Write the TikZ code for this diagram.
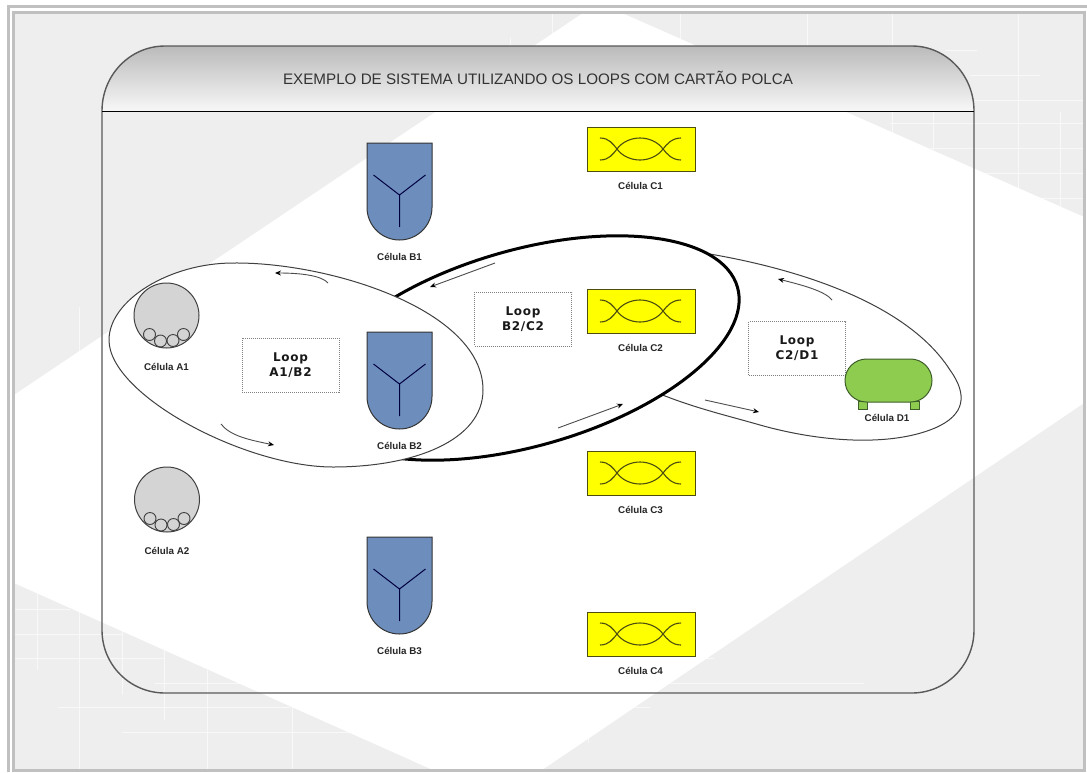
\documentclass[tikz,border=0pt]{standalone}
\usepackage{fontspec}
\setmainfont{Liberation Sans}
\newfontfamily\loopfont[LetterSpace=6]{DejaVu Sans}
\usetikzlibrary{arrows.meta,shapes.geometric}
\definecolor{bgray}{HTML}{EEEEEE}
\definecolor{bline}{HTML}{C0C0C0}
\definecolor{shieldblue}{HTML}{6D8EBD}
\definecolor{cellgray}{HTML}{D4D4D4}
\definecolor{tankgreen}{HTML}{8ECC4F}
\definecolor{pureyellow}{HTML}{FFFF00}
\definecolor{olive}{HTML}{4D4D10}
\tikzset{
  x=1pt,y=-1pt,
  cell label/.style={font=\fontsize{9.8}{11}\selectfont\bfseries,text=black!85,inner sep=0pt},
  loop box/.style={draw=black!50,fill=white,line width=0.8pt,dash pattern=on 1pt off 1pt,
    minimum width=97pt,minimum height=54pt,inner sep=0pt,align=center,
    font=\fontsize{12}{15}\selectfont\loopfont\bfseries,text=black!90},
  yellow cell/.style={draw=olive,fill=pureyellow,line width=1pt,minimum width=108pt,minimum height=44pt,inner sep=0pt,outer sep=0pt},
  gray cell/.style={circle,draw=black!75,fill=cellgray,line width=1pt,minimum size=65pt,inner sep=0pt,outer sep=0pt},
  ball/.style={circle,draw=black!75,line width=0.9pt,minimum size=12pt,inner sep=0pt,outer sep=0pt},
  thin arrow/.style={draw=black!70,line width=0.9pt,-{Stealth[length=6pt,width=5pt,black]}},
  loop line/.style={fill=white,draw=black!75,line width=1pt},
  loop oval/.style={ellipse,inner sep=0pt,outer sep=0pt,fill=white},
  grid line/.style={draw=white!60!bgray,line width=0.8pt},
}
\newcommand\shieldcell[3]{% name, top y, label
  \begin{scope}[shift={(399.5,#2)}]
    \draw[draw=black!80,fill=shieldblue,line width=1pt] (-32.5,0) -- (32.5,0) -- (32.5,64.5)
      arc[start angle=0,end angle=180,radius=32.5] -- cycle;
    \coordinate (#1J) at (0,52);
    \coordinate (#1L) at (-26,32);
    \coordinate (#1R) at (26,32);
    \coordinate (#1S) at (0,84);
    \draw[draw=black!75!blue,line width=1pt] (#1L) -- (#1J) -- (#1R) (#1J) -- (#1S);
    \node[cell label] (#1lab) at (0,113.5) {#3};
  \end{scope}}
\newcommand\yellowcell[3]{% name, top y, label
  \node[yellow cell,anchor=north west] (#1) at (587,#2) {};
  \begin{scope}[shift={(587,#2)}]
    \draw[draw=olive,line width=1.1pt]
      (13,11) .. controls (22,11) and (26,17) .. (30,22) .. controls (35,29) and (44,33) .. (53,33)
      .. controls (62,33) and (71,29) .. (76,22) .. controls (80,17) and (85,11) .. (94,11);
    \draw[draw=olive,line width=1.1pt]
      (13,33) .. controls (22,33) and (26,27) .. (30,22) .. controls (35,15) and (44,11) .. (53,11)
      .. controls (62,11) and (71,15) .. (76,22) .. controls (80,27) and (85,33) .. (94,33);
  \end{scope}
  \node[cell label] (#1lab) at (640.5,#2+59) {#3};}
\newcommand\graycell[4]{% name, x, y, label
  \node[gray cell] (#1) at (#2,#3) {};
  \node[ball] (#1a) at (#2-17,#3+19) {};
  \node[ball] (#1b) at (#2-6,#3+25.5) {};
  \node[ball] (#1c) at (#2+6.5,#3+25) {};
  \node[ball] (#1d) at (#2+17,#3+19) {};
  \node[cell label] (#1lab) at (#2,#3+51) {#4};}
\begin{document}
\begin{tikzpicture}
\useasboundingbox (0,0) rectangle (1087,772);
\fill[white] (0,0) rectangle (1087,772);
% frame
\draw[bline,line width=3pt] (8.5,772) -- (8.5,6.5) -- (1087,6.5);
\fill[bgray] (14,13) rectangle (1084,770);
% grid lines on gray
\foreach \a/\b/\c in {
  807/13/50, 892/13/133, 1018/13/190, 1060/112/210, 933/112/150, 552/13/35, 680/13/45, 510/38/45,
  37/590/670, 79/610/770, 122/630/695, 164/650/720, 207/670/770, 292/707/770, 79/307/352, 588/737/743}
  \draw[grid line] (\a,\b) -- (\a,\c);
\foreach \a/\b/\c in {
  945/977/50, 970/1040/75, 975/1083/100, 890/1083/123, 930/1083/148, 975/1083/173, 1000/1083/198,
  15/70/609, 15/122/634, 15/165/658, 155/260/683, 58/290/707, 122/350/732,
  670/864/683, 701/714/658, 631/650/707}
  \draw[grid line] (\a,\c) -- (\b,\c);
% white diagonal band
\fill[white] (583,13) -- (622,13) -- (1084,217) -- (1084,403) -- (542,770) -- (433,770) -- (14,583) -- (14,395) -- cycle;
\draw[bline,line width=2.5pt] (13.5,12.5) rectangle (1084.5,770.5);
% panel
\shade[top color=black!27,bottom color=black!3] (102,111) .. controls (102,75) and (130,46) .. (165,46) -- (912,46)
  .. controls (946,46) and (974,75) .. (974,111) -- cycle;
\draw[draw=black!65,line width=1.4pt] (102,111) .. controls (102,75) and (130,46) .. (165,46) -- (912,46)
  .. controls (946,46) and (974,75) .. (974,111) -- (974,630)
  .. controls (974,665) and (946,693) .. (912,693) -- (165,693)
  .. controls (130,693) and (102,665) .. (102,630) -- cycle;
\coordinate (headL) at (102,111);
\coordinate (headR) at (974,111);
\draw[black,line width=1pt] (headL) -- (headR);
\node[inner sep=0pt,text=black!80,font=\fontsize{15.2}{17}\selectfont] (title) at (538,77.5) {EXEMPLO DE SISTEMA UTILIZANDO OS LOOPS COM CARTÃO POLCA};
% loops
\draw[loop line] (660,247) .. controls (760,258) and (900,292) .. (950,370)
  .. controls (968,395) and (965,415) .. (935,428)
  .. controls (890,447) and (820,442) .. (760,425)
  .. controls (725,415) and (695,408) .. (660,394) -- (650,300) -- cycle;
\node[loop oval,draw=black,line width=3pt,rotate=16,minimum width=442pt,minimum height=196pt] (loopB) at (525,348) {};
\draw[loop line] (109,340) .. controls (109,300) and (170,263) .. (233,263)
  .. controls (330,262) and (483,310) .. (483,390)
  .. controls (483,440) and (415,467) .. (333,467)
  .. controls (245,467) and (109,395) .. cycle;
% boxes
\node[loop box] (boxA) at (290.5,365) {Loop\\A1/B2};
\node[loop box] (boxB) at (523,319) {Loop\\B2/C2};
\node[loop box] (boxC) at (797,348.5) {Loop\\C2/D1};
% cells
\shieldcell{B1}{143}{Célula B1}
\shieldcell{B2}{332}{Célula B2}
\shieldcell{B3}{537}{Célula B3}
\yellowcell{C1}{127}{Célula C1}
\yellowcell{C2}{289}{Célula C2}
\yellowcell{C3}{451}{Célula C3}
\yellowcell{C4}{612}{Célula C4}
\graycell{A1}{166.5}{315.5}{Célula A1}
\graycell{A2}{167}{499.5}{Célula A2}
% tank
\definecolor{tankline}{HTML}{3F5F2A}
\draw[draw=tankline,fill=tankgreen,line width=1pt] (858,401) rectangle (867,409);
\draw[draw=tankline,fill=tankgreen,line width=1pt] (910,401) rectangle (919,409);
\node[draw=tankline,fill=tankgreen,line width=1pt,rounded corners=21.5pt,minimum width=87pt,minimum height=43pt,inner sep=0pt,outer sep=0pt] (D1) at (888.5,380.5) {};
\node[cell label] (D1lab) at (887,418) {Célula D1};
% arrows
\coordinate (a1s) at (328,283); \coordinate (a1e) at (275,273);
\coordinate (a2s) at (221,424); \coordinate (a2e) at (274,445);
\coordinate (b1s) at (495,263); \coordinate (b1e) at (430,287);
\coordinate (b2s) at (558,428); \coordinate (b2e) at (623,404);
\coordinate (c1s) at (832,300); \coordinate (c1e) at (778,279);
\coordinate (c2s) at (705,400); \coordinate (c2e) at (759,412);
\draw[thin arrow] (a1s) .. controls (322,276) and (303,273) .. (a1e);
\draw[thin arrow] (a2s) .. controls (230,436) and (250,440) .. (a2e);
\draw[thin arrow] (b1s) -- (b1e);
\draw[thin arrow] (b2s) -- (b2e);
\draw[thin arrow] (c1s) .. controls (825,291) and (802,285) .. (c1e);
\draw[thin arrow] (c2s) -- (c2e);
\end{tikzpicture}
\end{document}
